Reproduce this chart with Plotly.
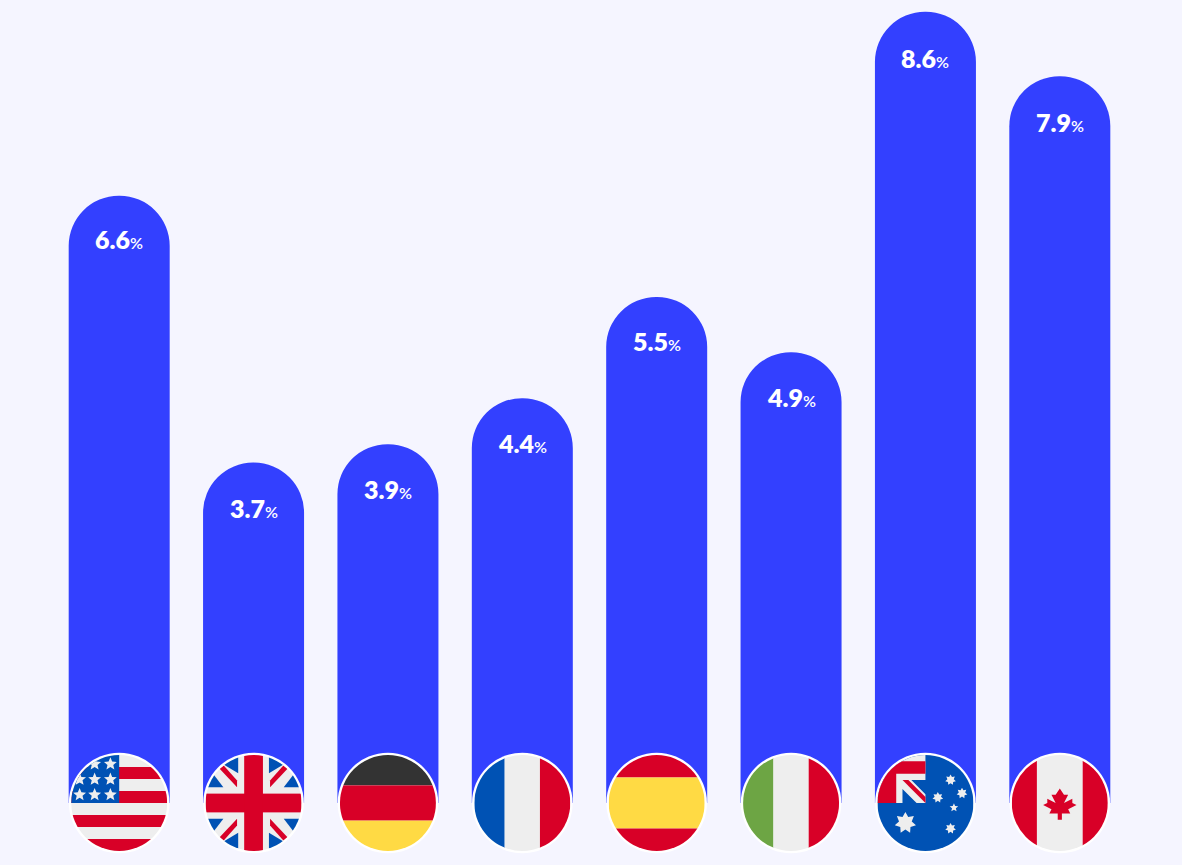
import base64
import math
import plotly.graph_objects as go

# ---- data ----
countries = ["USA", "UK", "Germany", "France", "Spain", "Italy", "Australia", "Canada"]
values = [6.6, 3.7, 3.9, 4.4, 5.5, 4.9, 8.6, 7.9]
value_labels = ["6.6", "3.7", "3.9", "4.4", "5.5", "4.9", "8.6", "7.9"]

# ---- style ----
BG = "#F5F5FF"
BAR = "#3340FF"
RED = "#D80027"
WHITE = "#EEEEEE"
BLUE = "#0052B4"
YELLOW = "#FFDA44"
DARK = "#333333"
GREEN = "#6DA544"

W, H = 1182, 865
M_L, M_R = 52.25, 54.75
PX_PER_UNIT = 92
BASE_PX = 803
FLAG_BOX = 104
LABEL_DROP = [43, 45, 45, 45, 44, 45, 46, 46]


def rect(x, y, w, h, c):
    return f'<rect x="{x}" y="{y}" width="{w}" height="{h}" fill="{c}"/>'


def poly(pts, c):
    return '<polygon points="' + " ".join(f"{x},{y}" for x, y in pts) + f'" fill="{c}"/>'


def star5(cx, cy, r, c=WHITE):
    pts = []
    for i in range(10):
        a = -math.pi / 2 + i * math.pi / 5
        q = r if i % 2 == 0 else r * 0.45
        pts.append((round(cx + q * math.cos(a), 1), round(cy + q * math.sin(a), 1)))
    return poly(pts, c)


def star7(cx, cy, r, c=WHITE):
    pts = []
    for i in range(14):
        a = -math.pi / 2 + i * math.pi / 7
        q = r if i % 2 == 0 else r * 0.6
        pts.append((round(cx + q * math.cos(a), 1), round(cy + q * math.sin(a), 1)))
    return poly(pts, c)


def mirrored(pts, c):
    out = ""
    for sx in (1, -1):
        for sy in (1, -1):
            out += poly([(256 + sx * (x - 256), 256 + sy * (y - 256)) for x, y in pts], c)
    return out


us = rect(0, 0, 512, 512, WHITE)
for y in (64, 192, 320, 448):
    us += rect(0, y, 512, 64, RED)
us += rect(0, 0, 256, 256, BLUE)
for x, y in [(125, 48), (209, 48), (45, 130), (125, 130), (209, 130), (45, 212), (125, 212), (209, 212)]:
    us += star5(x, y, 36)

uk = rect(0, 0, 512, 512, WHITE)
uk += mirrored([(338, 97), (338, 0), (500, 0)], BLUE)
uk += mirrored([(417, 172), (530, 172), (530, 25)], BLUE)
uk += mirrored([(344, 136), (344, 172), (437, 73), (415, 56)], RED)
uk += rect(0, 206, 512, 100, RED) + rect(206, 0, 100, 512, RED)

de = rect(0, 0, 512, 162, DARK) + rect(0, 162, 512, 188, RED) + rect(0, 350, 512, 162, YELLOW)
fr = rect(0, 0, 162, 512, BLUE) + rect(162, 0, 188, 512, WHITE) + rect(350, 0, 162, 512, RED)
es = rect(0, 0, 512, 120, RED) + rect(0, 120, 512, 272, YELLOW) + rect(0, 392, 512, 120, RED)
it = rect(0, 0, 162, 512, GREEN) + rect(162, 0, 188, 512, WHITE) + rect(350, 0, 162, 512, RED)

au = rect(0, 0, 512, 512, BLUE)
au += f'<path d="M256,133.565V0H0V256H133.565V180.789L208.777,256H256V208.778L180.787,133.565Z" fill="{WHITE}"/>'
au += f'<path d="M0,33.391V256H100.174V100.174H256V33.391Z" fill="{RED}"/>'
au += f'<path d="M256,224.519L165.047,133.566H133.566L255.998,256H256Z" fill="{RED}"/>'
au += star7(149, 362, 58)
for x, y, r in [(390, 133, 29), (451, 204, 29), (322, 227, 29), (390, 392, 29)]:
    au += star7(x, y, r)
au += star5(408, 281, 24)

ca = rect(0, 0, 134, 512, RED) + rect(134, 0, 244, 512, WHITE) + rect(378, 0, 134, 512, RED)
ca += (
    '<path d="M300.522,289.391L345.044,267.13L322.783,256V233.739L278.261,256L300.522,211.478H278.261'
    "L256,178.087L233.739,211.478H211.478L233.739,256L189.217,233.739V256L166.956,267.13L211.478,289.391"
    'L200.348,311.652H244.87V345.043H267.131V311.652H311.653Z" fill="' + RED + '"/>'
)

flag_bodies = [us, uk, de, fr, es, it, au, ca]


def flag_uri(body, idx):
    u = 512 / 96  # svg units per screen pixel: the flag disc is 96 px across
    box = FLAG_BOX * u
    o = 256 - box / 2
    svg = (
        f'<svg xmlns="http://www.w3.org/2000/svg" width="416" height="416" viewBox="{o:.3f} {o:.3f} {box:.3f} {box:.3f}">'
        f'<defs><clipPath id="c{idx}"><circle cx="256" cy="256" r="256"/></clipPath></defs>'
        f'<circle cx="256" cy="256" r="{50.3 * u:.1f}" fill="#FFFFFF"/>'
        f'<g clip-path="url(#c{idx})">{body}</g></svg>'
    )
    return "data:image/svg+xml;base64," + base64.b64encode(svg.encode()).decode()


fig = go.Figure(
    go.Bar(
        x=countries,
        y=values,
        width=101 / ((W - M_L - M_R) / len(countries)),
        marker=dict(color=BAR, cornerradius="50%", line=dict(width=0)),
        hoverinfo="skip",
    )
)

for i, (c, v, lab) in enumerate(zip(countries, values, value_labels)):
    fig.add_annotation(
        x=c, y=v, yshift=-LABEL_DROP[i], showarrow=False, yanchor="middle", xanchor="center",
        text=f'{lab}<span style="font-size:16px;font-weight:600">%</span>',
        font=dict(family="Lato", size=25, color="#FFFFFF", weight=800),
    )
    fig.add_layout_image(
        source=flag_uri(flag_bodies[i], i),
        xref="x", yref="y", x=i, y=0,
        sizex=FLAG_BOX / ((W - M_L - M_R) / len(countries)),
        sizey=FLAG_BOX / PX_PER_UNIT,
        xanchor="center", yanchor="middle", layer="above", sizing="stretch",
    )

fig.update_layout(
    width=W, height=H,
    margin=dict(l=M_L, r=M_R, t=0, b=0),
    paper_bgcolor=BG, plot_bgcolor=BG,
    showlegend=False,
    xaxis=dict(visible=False, range=[-0.5, len(countries) - 0.5], type="category"),
    yaxis=dict(visible=False, range=[-(H - BASE_PX) / PX_PER_UNIT, BASE_PX / PX_PER_UNIT]),
)

fig.write_html(
    "out.html",
    config={"displayModeBar": False},
    post_script="document.body.style.margin='0';document.body.style.background='" + BG + "';document.documentElement.style.overflow='hidden';",
)
